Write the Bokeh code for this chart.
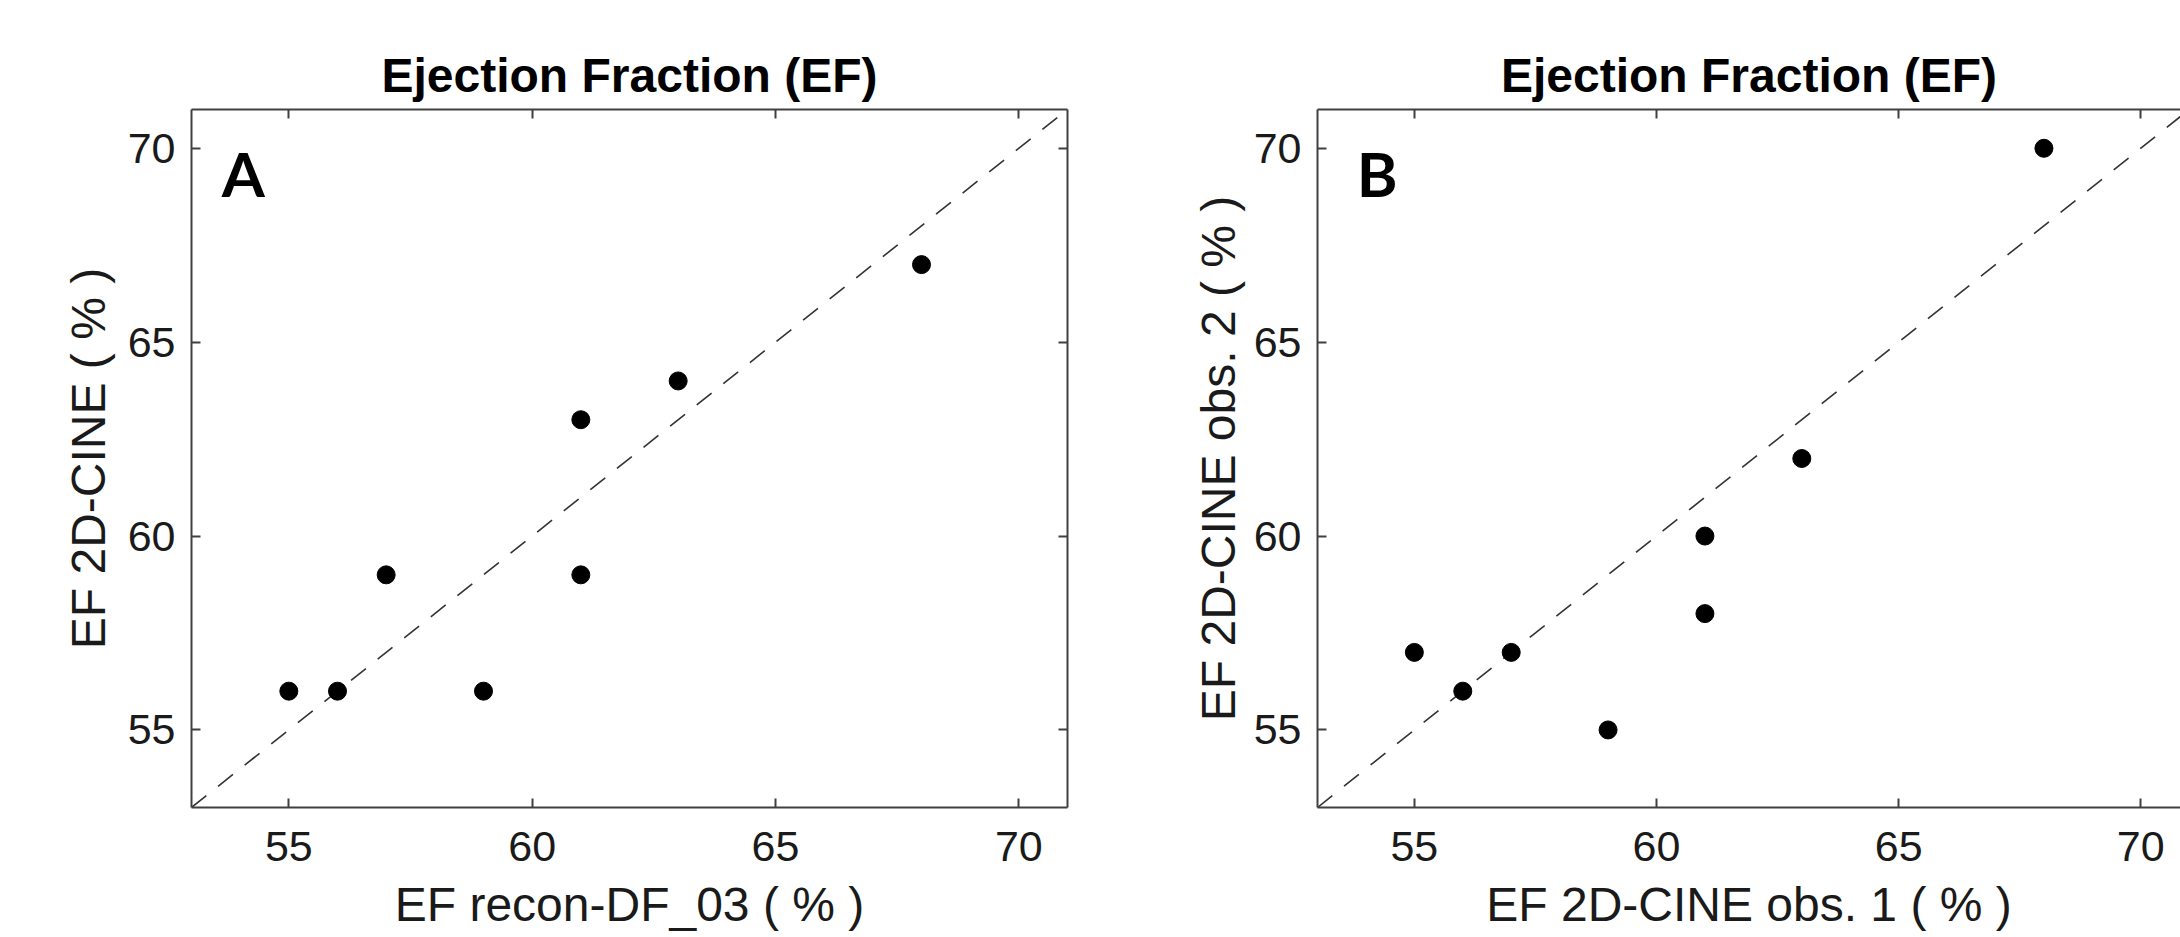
from bokeh.plotting import figure
from bokeh.models import LinearAxis, FixedTicker, Range1d, Label
from bokeh.layouts import row
from bokeh.embed import file_html
from bokeh.resources import INLINE

# ---- data ----
title_text = "Ejection Fraction (EF)"
ticks = [55, 60, 65, 70]
tick_labels = ["55", "60", "65", "70"]

a_x = [55, 56, 57, 59, 61, 61, 63, 68]
a_y = [56, 56, 59, 56, 63, 59, 64, 67]
b_x = [55, 56, 57, 59, 61, 61, 63, 68]
b_y = [57, 56, 57, 55, 60, 58, 62, 70]
identity = [53, 71]

a_xlabel = "EF recon-DF_03 ( % )"
a_ylabel = "EF 2D-CINE ( % )"
b_xlabel = "EF 2D-CINE obs. 1 ( % )"
b_ylabel = "EF 2D-CINE obs. 2 ( % )"

FONT = "Liberation Sans"
AX = "#404040"
TXT = "#1a1a1a"


def style_axis(ax, labels):
    ax.ticker = FixedTicker(ticks=ticks)
    ax.major_label_overrides = {t: l for t, l in zip(ticks, tick_labels)}
    ax.major_tick_in = 9
    ax.major_tick_out = 0
    ax.minor_tick_in = 0
    ax.minor_tick_out = 0
    ax.axis_line_color = AX
    ax.axis_line_width = 2
    ax.major_tick_line_color = AX
    ax.major_tick_line_width = 2
    ax.major_label_text_font = FONT
    if labels:
        ax.major_label_text_font_size = "43px"
        ax.major_label_text_color = TXT
    else:
        ax.major_label_text_font_size = "1px"
        ax.major_label_text_color = None
        ax.major_label_standoff = 0
    ax.axis_label_text_font = FONT
    ax.axis_label_text_font_size = "48px"
    ax.axis_label_text_font_style = "normal"
    ax.axis_label_text_color = TXT


def make_panel(xs, ys, xlabel, ylabel, letter, width, bl, br, x_end, right_axis, lx, ly, ylab_off):
    p = figure(width=width, height=937, x_range=Range1d(53, x_end), y_range=Range1d(53, 71),
               output_backend="svg", toolbar_location=None,
               x_axis_location=None, y_axis_location=None,
               min_border_left=bl, min_border_right=br, min_border_top=109, min_border_bottom=130,
               title=title_text)
    p.outline_line_color = None
    p.xgrid.visible = False
    p.ygrid.visible = False
    p.background_fill_color = "white"
    p.border_fill_color = "white"
    p.title.text_font = FONT
    p.title.text_font_size = "48px"
    p.title.text_font_style = "bold"
    p.title.text_color = "black"
    p.title.align = "center"
    p.title.standoff = 16

    bx = LinearAxis(axis_label=xlabel)
    style_axis(bx, True)
    bx.major_label_standoff = 24
    bx.axis_label_standoff = 14
    p.add_layout(bx, "below")

    ly_ax = LinearAxis(axis_label=ylabel)
    style_axis(ly_ax, True)
    ly_ax.major_label_standoff = 16
    ly_ax.axis_label_standoff = ylab_off
    p.add_layout(ly_ax, "left")

    tx = LinearAxis()
    style_axis(tx, False)
    p.add_layout(tx, "above")

    if right_axis:
        ry = LinearAxis()
        style_axis(ry, False)
        p.add_layout(ry, "right")

    p.line(identity, identity, line_dash="19 15", line_color="#333333", line_width=1.6)
    p.scatter(xs, ys, size=18, color="black")

    p.add_layout(Label(x=lx, y=ly, text=letter, text_font="Lato", text_font_style="bold",
                       text_font_size="62px", text_color="black", text_baseline="alphabetic"))
    return p


pa = make_panel(a_x, a_y, a_xlabel, a_ylabel, "A", 1127, 191, 60, 71, True, 53.62, 69.37, 10)
pb = make_panel(b_x, b_y, b_xlabel, b_ylabel, "B", 1053, 190, 0, 70.82, False, 53.81, 69.37, 6)

layout = row(pa, pb)
open("out.html", "w").write(file_html(layout, INLINE))
